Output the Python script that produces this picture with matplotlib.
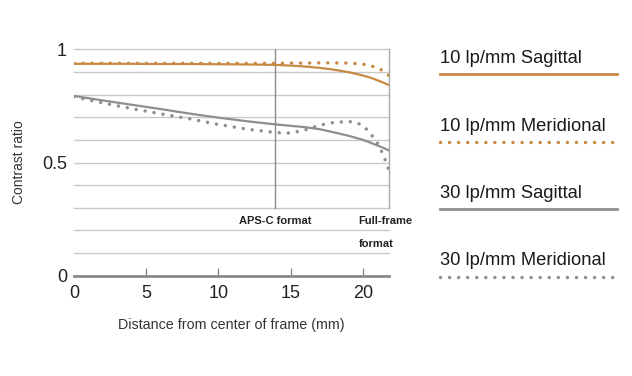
import matplotlib
matplotlib.use("Agg")
import matplotlib.pyplot as plt
from matplotlib.lines import Line2D

# ==============================================================
# Data
# ==============================================================
x_pos = [0, 2, 4, 6, 8, 10, 12, 14, 15, 16, 17, 18, 19, 19.5, 20, 20.5, 21, 21.4, 21.8]
sag_10 = [0.936, 0.936, 0.936, 0.935, 0.935, 0.934, 0.933, 0.931, 0.928, 0.924,
          0.918, 0.910, 0.899, 0.892, 0.884, 0.875, 0.863, 0.853, 0.842]
mer_10 = [0.938, 0.938, 0.938, 0.938, 0.938, 0.938, 0.938, 0.938, 0.939, 0.939,
          0.940, 0.940, 0.939, 0.937, 0.934, 0.928, 0.918, 0.905, 0.884]
sag_30 = [0.794, 0.774, 0.755, 0.736, 0.716, 0.698, 0.682, 0.668, 0.662, 0.656,
          0.647, 0.633, 0.618, 0.609, 0.600, 0.588, 0.575, 0.565, 0.553]
mer_30 = [0.790, 0.763, 0.738, 0.715, 0.693, 0.668, 0.647, 0.632, 0.630, 0.644,
          0.665, 0.677, 0.681, 0.677, 0.663, 0.630, 0.585, 0.535, 0.465]

series_labels = ["10 lp/mm Sagittal", "10 lp/mm Meridional",
                 "30 lp/mm Sagittal", "30 lp/mm Meridional"]
x_ticks = [0, 5, 10, 15, 20]
y_ticks = [0, 0.5, 1]
y_tick_labels = ["0", "0.5", "1"]
x_max = 21.8
aps_c_edge = 13.9

# ==============================================================
# Style
# ==============================================================
ORANGE = "#c68a44"
GRAY = "#8e8e8e"
GRID = "#c9c9c9"
SANS = ["Liberation Sans", "DejaVu Sans"]
DOTS = (0, (0.01, 2.6))

fig = plt.figure(figsize=(6.32, 3.76), dpi=100)
ax = fig.add_axes([74 / 632, 1 - 275.7 / 376, (389 - 74) / 632, (275.7 - 49.3) / 376])
ax.set_xlim(0, x_max)
ax.set_ylim(0, 1)
for s in ax.spines.values():
    s.set_visible(False)

# grid
for yv in [0.1 * i for i in range(1, 11)]:
    ax.axhline(yv, color=GRID, lw=1.0, clip_on=False, zorder=1)
ax.axhline(0, color="#8a8a8a", lw=2.0, clip_on=False, zorder=2)
ax.plot([aps_c_edge, aps_c_edge], [0.3, 1.0], color="#8a8a8a", lw=1.0, zorder=2)
ax.plot([x_max, x_max], [0.3, 1.0], color="#a8a8a8", lw=1.0, clip_on=False, zorder=2)

# curves
ax.plot(x_pos, sag_10, color=ORANGE, lw=1.6, zorder=4)
ax.plot(x_pos, mer_10, color=ORANGE, lw=2.5, ls=DOTS, dash_capstyle="round", zorder=4)
ax.plot(x_pos, sag_30, color=GRAY, lw=1.6, zorder=4)
ax.plot(x_pos, mer_30, color=GRAY, lw=2.5, ls=DOTS, dash_capstyle="round", zorder=4)

# ticks
ax.set_xticks(x_ticks)
ax.set_xticklabels([str(t) for t in x_ticks], family=SANS, fontsize=13, color="#222222")
ax.set_yticks(y_ticks)
ax.set_yticklabels(y_tick_labels, family=SANS, fontsize=13, color="#222222")
ax.tick_params(axis="x", direction="in", length=6, width=1, color="#8a8a8a", pad=7)
ax.tick_params(axis="y", length=0, pad=5)
ax.xaxis.get_majorticklines()[0].set_visible(False)
ax.xaxis.get_majorticklines()[1].set_visible(False)

ax.set_ylabel("Contrast ratio", family=SANS, fontsize=10, color="#333333")
ax.yaxis.set_label_coords(-0.152, 0.5)
ax.set_xlabel("Distance from center of frame (mm)", family=SANS, fontsize=10.3,
              color="#333333", labelpad=11)

# format annotations
ax.text(aps_c_edge, 0.24, "APS-C format", family=SANS, fontsize=8, weight="bold",
        color="#222222", ha="center", va="center")
ax.text(19.7, 0.24, "Full-frame", family=SANS, fontsize=8, weight="bold",
        color="#222222", ha="left", va="center", clip_on=False)
ax.text(19.7, 0.14, "format", family=SANS, fontsize=8, weight="bold",
        color="#222222", ha="left", va="center", clip_on=False)

# ==============================================================
# Legend on the right
# ==============================================================
styles = [(ORANGE, "-", 2.0), (ORANGE, DOTS, 2.5), (GRAY, "-", 2.0), (GRAY, DOTS, 2.5)]
text_y = [63, 131, 198.3, 265]
line_y = [73.5, 141.7, 209, 277]
for lab, (c, ls, lw), ty, ly in zip(series_labels, styles, text_y, line_y):
    fig.text(440 / 632, 1 - ty / 376, lab, family=SANS, fontsize=13.2,
             color="#1a1a1a", ha="left", va="baseline")
    fig.add_artist(Line2D([440 / 632, 617 / 632], [1 - ly / 376] * 2, color=c,
                          lw=lw, ls=ls, dash_capstyle="round"))

fig.savefig("out.png", dpi=100)
